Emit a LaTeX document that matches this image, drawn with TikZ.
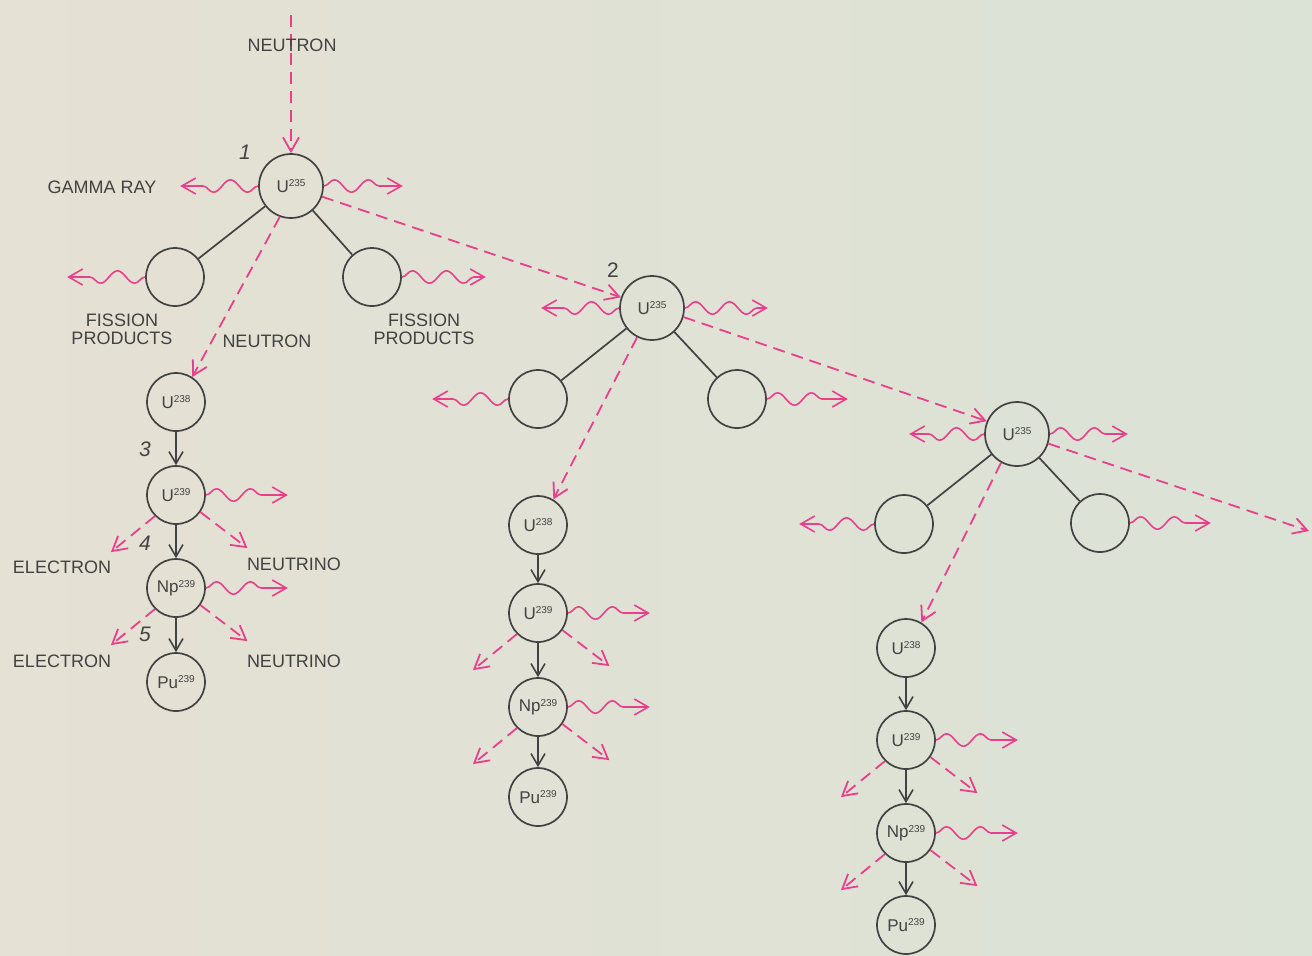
\documentclass[tikz,border=0pt]{standalone}
\usepackage{fontspec}
\setmainfont{Liberation Sans}
\usetikzlibrary{arrows.meta,decorations.pathmorphing}

\definecolor{paper}{RGB}{219,226,214}
\definecolor{paperwarm}{RGB}{229,225,212}
\definecolor{ray}{RGB}{232,64,140}
\definecolor{ink}{RGB}{66,66,66}

% isotope symbol with a small raised mass number
\newcommand{\iso}[2]{#1\raisebox{0.32em}{\fontsize{5}{6}\selectfont #2}}

\tikzset{
  nucleus/.style={circle, draw=ink, line width=0.85pt, minimum size=29pt,
    inner sep=0pt, text=ink, font=\fontsize{8.5}{9}\selectfont},
  bignucleus/.style={nucleus, minimum size=32pt},
  tag/.style={text=ink, font=\fontsize{9}{9.2}\selectfont, align=center, inner sep=0pt},
  stepnum/.style={text=ink, font=\fontsize{10.5}{11}\selectfont\itshape, inner sep=0pt},
  barb/.style={-{Straight Barb[length=7pt,width=8pt]}},
  neutron/.style={draw=ray, line width=0.9pt, dash pattern=on 6pt off 3.5pt, barb},
  gamma/.style={draw=ray, line width=0.8pt, barb, decorate,
    decoration={snake, amplitude=3.1pt, segment length=17pt, post length=5pt}},
  decay/.style={draw=ink, line width=0.8pt, -{Straight Barb[length=6pt,width=7pt]}},
  split/.style={draw=ink, line width=0.85pt}
}

\begin{document}
\begin{tikzpicture}[x=0.5pt, y=-0.5pt]
  % page
  \shade[left color=paperwarm, right color=paper] (0,0) rectangle (1312,955);
  \useasboundingbox (0,0) rectangle (1312,955);

  % ---------- first fission ----------
  \coordinate (src) at (291,15);
  \node[bignucleus] (u1) at (291,186) {\iso{U}{235}};
  \node[nucleus] (f1a) at (175,277) {};
  \node[nucleus] (f1b) at (372,277) {};

  \node[nucleus] (a1) at (176,402) {\iso{U}{238}};
  \node[nucleus] (b1) at (176,495) {\iso{U}{239}};
  \node[nucleus] (c1) at (176,588) {\iso{Np}{239}};
  \node[nucleus] (d1) at (176,682) {\iso{Pu}{239}};

  % ---------- second fission ----------
  \node[bignucleus] (u2) at (652,308) {\iso{U}{235}};
  \node[nucleus] (f2a) at (538,399) {};
  \node[nucleus] (f2b) at (737,399) {};

  \node[nucleus] (a2) at (538,525) {\iso{U}{238}};
  \node[nucleus] (b2) at (538,613) {\iso{U}{239}};
  \node[nucleus] (c2) at (538,707) {\iso{Np}{239}};
  \node[nucleus] (d2) at (538,797) {\iso{Pu}{239}};

  % ---------- third fission ----------
  \node[bignucleus] (u3) at (1017,434) {\iso{U}{235}};
  \node[nucleus] (f3a) at (904,524) {};
  \node[nucleus] (f3b) at (1100,523) {};

  \node[nucleus] (a3) at (906,648) {\iso{U}{238}};
  \node[nucleus] (b3) at (906,740) {\iso{U}{239}};
  \node[nucleus] (c3) at (906,833) {\iso{Np}{239}};
  \node[nucleus] (d3) at (906,925) {\iso{Pu}{239}};

  \coordinate (exit) at (1309,531);

  % splitting into fission products
  \foreach \p/\q in {u1/f1a, u1/f1b, u2/f2a, u2/f2b, u3/f3a, u3/f3b}
    \draw[split] (\p) -- (\q);

  % beta-decay chains
  \foreach \p/\q in {a1/b1, b1/c1, c1/d1, a2/b2, b2/c2, c2/d2, a3/b3, b3/c3, c3/d3}
    \draw[decay] (\p) -- (\q);

  % neutrons
  \draw[neutron] (src) -- (u1.north);
  \draw[neutron] (u1.-110) -- (a1.57);
  \draw[neutron] (u1.-19) -- (u2.161);
  \draw[neutron] (u2.-117) -- (a2.59);
  \draw[neutron] (u2.-16) -- (u3.157);
  \draw[neutron] (u3.-119) -- (a3.59);
  \draw[neutron] (u3.-17) -- (exit);

  % gamma rays
  \draw[gamma] (u1.west) -- ++(-78,0);
  \draw[gamma] (u1.east) -- ++(79,0);
  \draw[gamma] (f1a.west) -- ++(-78,0);
  \draw[gamma] (f1b.east) -- ++(84,0);
  \draw[gamma] (u2.west) -- ++(-78,0);
  \draw[gamma] (u2.east) -- ++(83,0);
  \draw[gamma] (f2a.west) -- ++(-76,0);
  \draw[gamma] (f2b.east) -- ++(81,0);
  \draw[gamma] (u3.west) -- ++(-75,0);
  \draw[gamma] (u3.east) -- ++(78,0);
  \draw[gamma] (f3a.west) -- ++(-75,0);
  \draw[gamma] (f3b.east) -- ++(81,0);
  \foreach \n in {b1,c1,b2,c2,b3,c3}
    \draw[gamma] (\n.east) -- ++(82,0);

  % electrons and neutrinos
  \foreach \n in {b1,c1,b2,c2,b3,c3} {
    \draw[neutron] (\n.-135) -- ++(-44,36);
    \draw[neutron] (\n.-35) -- ++(47,36);
  }

  % labels
  \node[tag] (lneu) at (292,45) {NEUTRON};
  \node[tag] (lgam) at (102,187) {GAMMA RAY};
  \node[tag] (lfpa) at (122,329) {FISSION\\PRODUCTS};
  \node[tag] (lfpb) at (424,329) {FISSION\\PRODUCTS};
  \node[tag] (lneu2) at (267,341) {NEUTRON};
  \node[tag] (lel1) at (62,567) {ELECTRON};
  \node[tag] (lel2) at (62,661) {ELECTRON};
  \node[tag] (lnu1) at (294,564) {NEUTRINO};
  \node[tag] (lnu2) at (294,661) {NEUTRINO};

  % step numbers
  \node[stepnum] (s1) at (245,152) {1};
  \node[stepnum, font=\fontsize{10.5}{11}\selectfont] (s2) at (613,270) {2};
  \node[stepnum] (s3) at (145,449) {3};
  \node[stepnum] (s4) at (145,543) {4};
  \node[stepnum] (s5) at (145,634) {5};
\end{tikzpicture}
\end{document}
